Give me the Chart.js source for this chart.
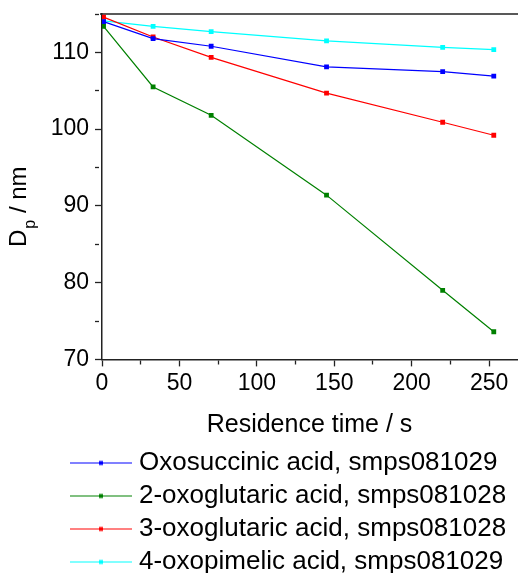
<!DOCTYPE html>
<html>
<head>
<meta charset="utf-8">
<script src="https://cdn.jsdelivr.net/npm/chart.js@4/dist/chart.umd.min.js"></script>
<style>
  html, body { margin: 0; padding: 0; background: #fff; }
</style>
</head>
<body>
<canvas id="myChart" width="521" height="573"></canvas>
<script>
"use strict";
// residence time (s), same sampling for every run
const times = [1, 33, 70.5, 145, 220, 253];
const oxosuccinic = [114.0, 111.8, 110.8, 108.1, 107.5, 106.9];
const oxoglutaric2 = [113.4, 105.5, 101.8, 91.4, 79.0, 73.6];
const oxoglutaric3 = [114.6, 112.0, 109.35, 104.7, 100.9, 99.2];
const oxopimelic4 = [114.1, 113.4, 112.7, 111.5, 110.65, 110.35];

const seriesNames = [
  "Oxosuccinic acid, smps081029",
  "2-oxoglutaric acid, smps081028",
  "3-oxoglutaric acid, smps081028",
  "4-oxopimelic acid, smps081029",
];
const seriesValues = [oxosuccinic, oxoglutaric2, oxoglutaric3, oxopimelic4];
const seriesColors = ["#0000ff", "#008000", "#ff0000", "#00ffff"];

const xTickLabels = ["0", "50", "100", "150", "200", "250"];
const yTickLabels = ["70", "80", "90", "100", "110"];

const FONT = "'Liberation Sans', Arial, Helvetica, sans-serif";

// little line + square sample used as legend symbol
function legendSample(color) {
  const c = document.createElement("canvas");
  c.width = 62;
  c.height = 9;
  const g = c.getContext("2d");
  g.strokeStyle = color;
  g.lineWidth = 1;
  g.beginPath();
  g.moveTo(0, 4.5);
  g.lineTo(62, 4.5);
  g.stroke();
  g.fillStyle = color;
  g.fillRect(29, 2.5, 4, 4);
  return c;
}
const samples = seriesColors.map(legendSample);

const frameTop = {
  id: "frameTop",
  afterLayout(chart) {
    chart.legend.left = 69;
  },
  beforeDatasetsDraw(chart) {
    const { ctx, chartArea } = chart;
    ctx.save();
    ctx.strokeStyle = "#222";
    ctx.lineWidth = 1.5;
    ctx.beginPath();
    ctx.moveTo(chartArea.left - 2, chartArea.top);
    ctx.lineTo(chartArea.right + 1, chartArea.top);
    ctx.stroke();
    ctx.restore();
  },
  afterDraw(chart) {
    // y title with subscript: D_p / nm
    const ctx = chart.ctx;
    ctx.save();
    ctx.translate(26, 247);
    ctx.rotate(-Math.PI / 2);
    ctx.fillStyle = "#000";
    ctx.textBaseline = "alphabetic";
    ctx.textAlign = "left";
    ctx.font = "24px " + FONT;
    ctx.fillText("D", 0, 0);
    let x = ctx.measureText("D").width + 1;
    ctx.font = "16px " + FONT;
    ctx.fillText("p", x, 9);
    x += ctx.measureText("p").width;
    ctx.font = "24px " + FONT;
    ctx.fillText(" / nm", x, 0);
    ctx.restore();
  },
};

const ctx = document.getElementById("myChart");

new Chart(ctx, {
  type: "line",
  data: {
    datasets: seriesNames.map((name, i) => ({
      label: name,
      data: times.map((t, j) => ({ x: t, y: seriesValues[i][j] })),
      borderColor: seriesColors[i],
      backgroundColor: seriesColors[i],
      borderWidth: 1.2,
      pointStyle: "rect",
      pointRadius: 3.4,
      pointBorderWidth: 0,
      tension: 0,
    })),
  },
  options: {
    responsive: false,
    animation: false,
    layout: { padding: { top: 14, right: 1, bottom: -12, left: 0 } },
    plugins: {
      tooltip: { enabled: false },
      legend: {
        position: "bottom",
        align: "start",
        labels: {
          usePointStyle: true,
          pointStyleWidth: 50,
          boxHeight: 26,
          padding: 7,
          color: "#000",
          font: { family: FONT, size: 26 },
          generateLabels: (chart) =>
            chart.data.datasets.map((ds, i) => ({
              text: ds.label,
              pointStyle: samples[i],
              datasetIndex: i,
              hidden: false,
              lineWidth: 0,
              fillStyle: ds.borderColor,
              strokeStyle: ds.borderColor,
              fontColor: "#000",
            })),
        },
      },
    },
    scales: {
      x: {
        type: "linear",
        min: 0,
        max: 268,
        afterFit: (scale) => {
          scale.paddingLeft = 0;
          scale.paddingRight = 0;
        },
        border: { display: true, color: "#222", width: 1.5 },
        grid: {
          drawOnChartArea: false,
          drawTicks: true,
          tickLength: 7,
          tickColor: "#222",
          tickWidth: 1.3,
          tickBorderDash: (c) => (xTickLabels.includes(String(c.tick.value)) ? [] : [4, 20]),
        },
        ticks: {
          stepSize: 25,
          includeBounds: false,
          maxRotation: 0,
          autoSkip: false,
          padding: 3,
          color: "#000",
          font: { family: FONT, size: 23 },
          callback: (v) => (xTickLabels.includes(String(v)) ? String(v) : ""),
        },
        title: {
          display: true,
          text: "Residence time / s",
          color: "#000",
          font: { family: FONT, size: 25 },
          padding: { top: 10, bottom: 3 },
        },
      },
      y: {
        min: 70,
        max: 115,
        afterFit: (scale) => {
          scale.width = 102;
          scale.paddingTop = 0;
          scale.paddingBottom = 0;
        },
        border: { display: true, color: "#222", width: 1.5 },
        grid: {
          drawOnChartArea: false,
          drawTicks: true,
          tickLength: 7,
          tickColor: "#222",
          tickWidth: 1.3,
          tickBorderDash: (c) => (yTickLabels.includes(String(c.tick.value)) ? [] : [4, 20]),
        },
        ticks: {
          stepSize: 5,
          autoSkip: false,
          padding: 6,
          color: "#000",
          font: { family: FONT, size: 23 },
          callback: (v) => (yTickLabels.includes(String(v)) ? String(v) : ""),
        },
      },
    },
  },
  plugins: [frameTop],
});
</script>
</body>
</html>
